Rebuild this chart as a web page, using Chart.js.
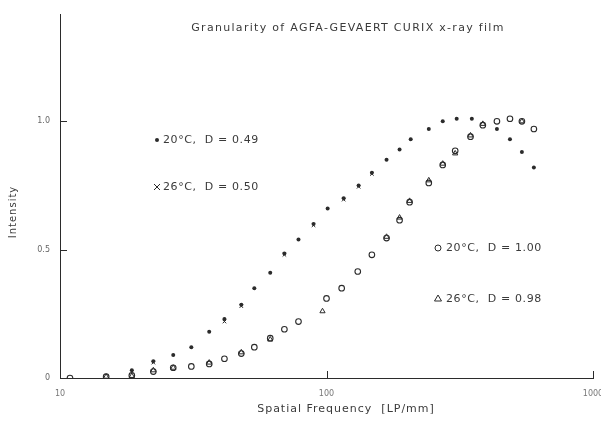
<!DOCTYPE html>
<html>
<head>
<meta charset="utf-8">
<script src="https://cdn.jsdelivr.net/npm/chart.js@4.4.1/dist/chart.umd.min.js"></script>
<style>
  html, body { margin: 0; padding: 0; background: #fff; }
  #wrap { width: 601px; height: 427px; }
</style>
</head>
<body>
<div id="wrap"><canvas id="grainChart" width="601" height="427"></canvas></div>
<script>
// Data (spatial frequency in LP/mm, normalised intensity)
const dotFreq = [18.6, 22.4, 26.6, 31.1, 36.3, 41.4, 47.9, 53.6, 61.5, 69.5, 78.5, 89.4, 101, 116, 132, 148, 168, 188, 207, 242, 273, 308, 351, 436, 488, 541, 600];
const dotVals = [0.03, 0.065, 0.09, 0.12, 0.18, 0.23, 0.285, 0.35, 0.41, 0.485, 0.54, 0.60, 0.66, 0.70, 0.75, 0.80, 0.85, 0.89, 0.93, 0.97, 1.0, 1.01, 1.01, 0.97, 0.93, 0.88, 0.82];

const crossFreq = [22.4, 41.4, 47.9, 69.5, 89.4, 116, 132, 148];
const crossVals = [0.06, 0.22, 0.28, 0.48, 0.595, 0.695, 0.745, 0.795];

const circleFreq = [10.9, 14.9, 18.6, 22.4, 26.6, 31.1, 36.3, 41.4, 47.9, 53.6, 61.5, 69.5, 78.5, 100, 114, 131, 148, 168, 188, 205, 242, 273, 304, 347, 386, 436, 488, 541, 600];
const circleVals = [0, 0.005, 0.01, 0.025, 0.04, 0.045, 0.055, 0.075, 0.095, 0.12, 0.155, 0.19, 0.22, 0.31, 0.35, 0.415, 0.48, 0.545, 0.615, 0.685, 0.76, 0.83, 0.885, 0.94, 0.985, 1.0, 1.01, 1.0, 0.97];

const triFreq = [14.9, 18.6, 22.4, 26.6, 36.3, 47.9, 61.5, 96.6, 168, 188, 205, 242, 273, 304, 347, 386, 541];
const triVals = [0.005, 0.008, 0.03, 0.04, 0.06, 0.1, 0.15, 0.26, 0.55, 0.625, 0.69, 0.77, 0.835, 0.875, 0.945, 0.99, 1.0];

const yTicks = [0, 0.5, 1.0];
const xTicks = [10, 100, 1000];

const ink = '#2b2b2b';
const textInk = '#3a3a3a';

function toPoints(xs, ys) {
    return xs.map((x, i) => ({ x: x, y: ys[i] }));
}

// Title, key and inward tick marks
const decorations = {
    id: 'decorations',
    afterDraw(chart) {
        const ctx = chart.ctx;
        const xs = chart.scales.x;
        const ys = chart.scales.y;
        ctx.save();
        ctx.strokeStyle = ink;
        ctx.lineWidth = 1;
        yTicks.forEach(v => {
            if (v === 0) return;
            const py = Math.round(ys.getPixelForValue(v)) + 0.5;
            ctx.beginPath();
            ctx.moveTo(xs.left, py);
            ctx.lineTo(xs.left + 7, py);
            ctx.stroke();
        });
        xTicks.forEach(v => {
            if (v === 10) return;
            const px = Math.round(xs.getPixelForValue(v)) + 0.5;
            ctx.beginPath();
            ctx.moveTo(px, ys.bottom);
            ctx.lineTo(px, ys.bottom - 7);
            ctx.stroke();
        });

        ctx.fillStyle = textInk;
        ctx.textBaseline = 'middle';
        ctx.letterSpacing = '1.3px';
        ctx.font = '11px "DejaVu Sans"';
        ctx.textAlign = 'center';
        ctx.fillText('Granularity of AGFA-GEVAERT CURIX x-ray film', 348, 28);

        ctx.letterSpacing = '1px';
        ctx.fillText('Spatial Frequency  [LP/mm]', 346, 409);

        ctx.save();
        ctx.translate(13, 212);
        ctx.rotate(-Math.PI / 2);
        ctx.font = '10px "DejaVu Sans"';
        ctx.fillText('Intensity', 0, 0);
        ctx.restore();

        ctx.textAlign = 'left';
        ctx.letterSpacing = '0.6px';
        ctx.font = '11px "DejaVu Sans"';
        ctx.fillText('20\u00b0C,  D = 0.49', 163, 140);
        ctx.fillText('26\u00b0C,  D = 0.50', 163, 187);
        ctx.fillText('20\u00b0C,  D = 1.00', 446, 248);
        ctx.fillText('26\u00b0C,  D = 0.98', 446, 299);

        // key symbols
        ctx.letterSpacing = '0px';
        ctx.fillStyle = ink;
        ctx.beginPath();
        ctx.arc(157, 140, 2, 0, Math.PI * 2);
        ctx.fill();
        ctx.beginPath();
        ctx.moveTo(154, 184); ctx.lineTo(160, 190);
        ctx.moveTo(160, 184); ctx.lineTo(154, 190);
        ctx.stroke();
        ctx.beginPath();
        ctx.arc(438, 248, 3, 0, Math.PI * 2);
        ctx.stroke();
        ctx.beginPath();
        ctx.moveTo(438, 295); ctx.lineTo(441.5, 301); ctx.lineTo(434.5, 301); ctx.closePath();
        ctx.stroke();
        ctx.restore();
    }
};

const ctx = document.getElementById('grainChart').getContext('2d');
const grainChart = new Chart(ctx, {
    type: 'scatter',
    data: {
        datasets: [
            {
                label: '20\u00b0C, D = 0.49',
                data: toPoints(dotFreq, dotVals),
                pointStyle: 'circle',
                pointRadius: 2,
                backgroundColor: ink,
                borderColor: ink,
                borderWidth: 0
            },
            {
                label: '26\u00b0C, D = 0.50',
                data: toPoints(crossFreq, crossVals),
                pointStyle: 'crossRot',
                pointRadius: 2.5,
                borderColor: ink,
                borderWidth: 1
            },
            {
                label: '20\u00b0C, D = 1.00',
                data: toPoints(circleFreq, circleVals),
                pointStyle: 'circle',
                pointRadius: 2.8,
                backgroundColor: 'rgba(255,255,255,0)',
                borderColor: ink,
                borderWidth: 1.1
            },
            {
                label: '26\u00b0C, D = 0.98',
                data: toPoints(triFreq, triVals),
                pointStyle: 'triangle',
                pointRadius: 3,
                backgroundColor: 'rgba(255,255,255,0)',
                borderColor: ink,
                borderWidth: 1
            }
        ]
    },
    options: {
        responsive: false,
        animation: false,
        layout: { padding: { top: 10, right: 8, left: 0, bottom: 0 } },
        scales: {
            x: {
                type: 'logarithmic',
                min: 10,
                max: 1000,
                afterBuildTicks: scale => { scale.ticks = xTicks.map(v => ({ value: v })); },
                afterFit: scale => {
                    scale.height = 49;
                    scale.paddingLeft = 0;
                    scale.paddingRight = 0;
                },
                grid: { display: false, drawTicks: false },
                border: { display: true, color: ink, width: 1 },
                ticks: {
                    padding: 11,
                    color: '#777',
                    font: { family: 'DejaVu Sans', size: 8 },
                    callback: v => String(v)
                }
            },
            y: {
                min: 0,
                max: 1.415,
                afterBuildTicks: scale => { scale.ticks = yTicks.map(v => ({ value: v })); },
                afterFit: scale => { scale.width = 60; },
                grid: { display: false, drawTicks: false },
                border: { display: true, color: ink, width: 1 },
                ticks: {
                    padding: 10,
                    color: '#666',
                    font: { family: 'DejaVu Sans', size: 8 },
                    callback: v => (v === 0 ? '0' : v.toFixed(1))
                }
            }
        },
        plugins: {
            legend: { display: false },
            tooltip: { enabled: false }
        }
    },
    plugins: [decorations]
});
</script>
</body>
</html>
